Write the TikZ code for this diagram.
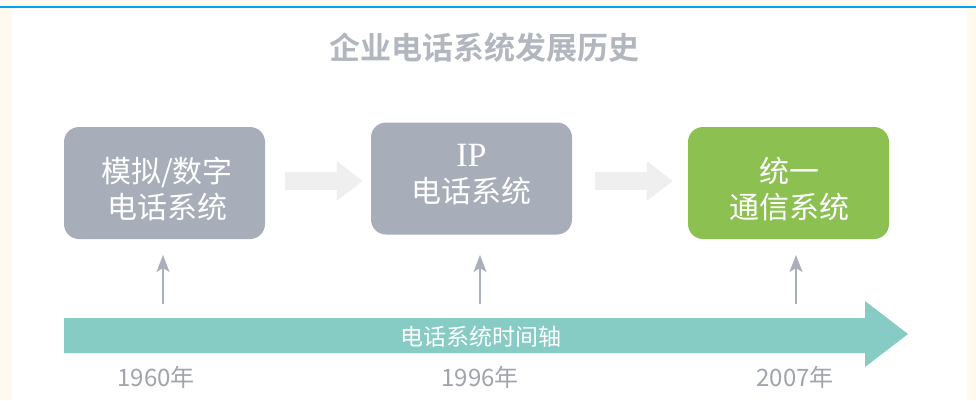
\documentclass[tikz,border=0pt]{standalone}
\usepackage{fontspec}
\newfontfamily\cjk{Noto Sans CJK SC}
\newfontfamily\cjkbold{Noto Sans CJK SC Bold}
\newfontfamily\latinserif{Liberation Serif}
\usetikzlibrary{arrows.meta}
\definecolor{cream}{HTML}{FFF9EE}
\definecolor{topblue}{HTML}{00A2E8}
\definecolor{boxgray}{HTML}{A8AEB9}
\definecolor{boxgreen}{HTML}{8CC152}
\definecolor{teal}{HTML}{86CBC4}
\definecolor{lightarrow}{HTML}{EFEFEF}
\definecolor{vgray}{HTML}{A9AFBB}
\definecolor{titlegray}{HTML}{B1B6BF}
\definecolor{yeargray}{HTML}{A0A4AD}
\tikzset{
  stagebox/.style={rounded corners=15pt, minimum width=201pt, minimum height=112pt, inner sep=0pt},
  boxtext/.style={text=white, align=center, font=\cjk\fontsize{30}{36}\selectfont, inner sep=0pt},
  barrow/.style={draw=lightarrow, line width=18pt, -{Triangle[length=26pt,width=38pt]}},
  varrow/.style={draw=vgray, line width=1.8pt, -{Stealth[length=17pt,width=13pt,inset=4pt]}},
  yeartext/.style={text=yeargray, font=\cjk\fontsize{24}{26}\selectfont, inner sep=0pt},
}
\begin{document}
\begin{tikzpicture}[x=1pt,y=-1pt]
\useasboundingbox (0,0) rectangle (976,400);
\fill[cream] (0,0) rectangle (976,400);
\fill[white] (12,7) rectangle (967,400);
\fill[topblue] (0,5.5) rectangle (976,8);
% title
\node[text=titlegray, font=\cjkbold\fontsize{31}{34}\selectfont, inner sep=0pt] (title) at (484,48) {企业电话系统发展历史};
% boxes
\node[stagebox, fill=boxgray] (b1) at (164.5,183) {};
\node[stagebox, fill=boxgray] (b2) at (471.5,178.5) {};
\node[stagebox, fill=boxgreen] (b3) at (788.5,183) {};
\node[boxtext] (t1) at (167,189) {模拟/数字\\电话系统};
\node[boxtext] (t2) at (471.5,175) {{\latinserif\fontsize{34}{36}\selectfont IP}\\电话系统};
\node[boxtext] (t3) at (789,189) {统一\\通信系统};
% block arrows
\draw[barrow, shorten <=20pt, shorten >=8pt] (b1.east |- 0,181) -- (b2.west |- 0,181);
\draw[barrow, shorten <=23pt, shorten >=15pt] (b2.east |- 0,181) -- (b3.west |- 0,181);
% timeline
\fill[teal] (64,318) -- (865,318) -- (865,301) -- (908,334) -- (865,367) -- (865,353) -- (64,353) -- cycle;
\node[text=white, font=\cjk\fontsize{23}{25}\selectfont, inner sep=0pt] (axis) at (481,337) {电话系统时间轴};
% vertical arrows
\coordinate (v1s) at (163,304); \coordinate (v1e) at (163,255);
\coordinate (v2s) at (480,304); \coordinate (v2e) at (480,255);
\coordinate (v3s) at (796,304); \coordinate (v3e) at (796,255);
\draw[varrow] (v1s) -- (v1e);
\draw[varrow] (v2s) -- (v2e);
\draw[varrow] (v3s) -- (v3e);
% years
\node[yeartext] (y1) at (156,377) {1960年};
\node[yeartext] (y2) at (480,377) {1996年};
\node[yeartext] (y3) at (795,377) {2007年};
\end{tikzpicture}
\end{document}
